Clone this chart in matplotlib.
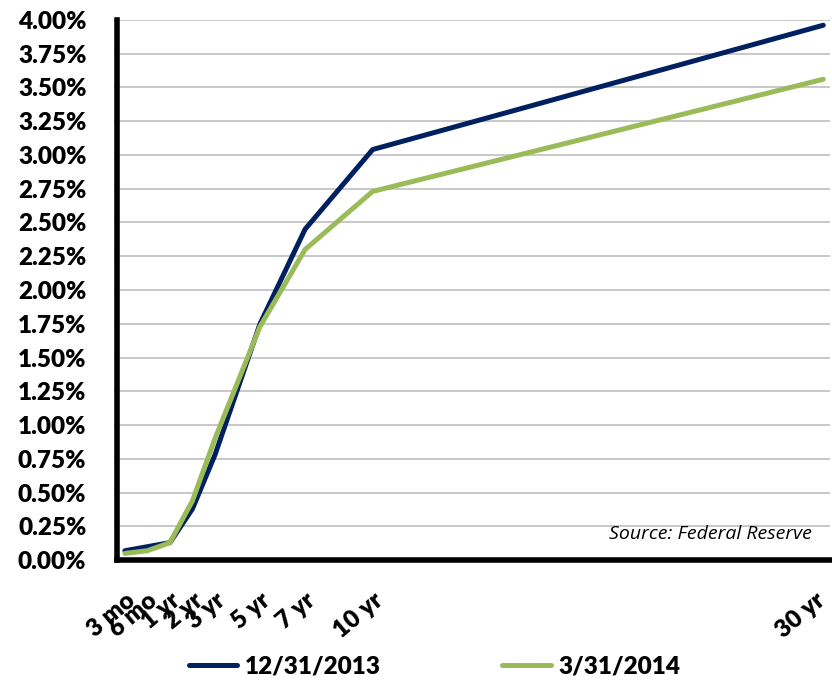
import matplotlib
matplotlib.use("Agg")
import matplotlib.pyplot as plt
from matplotlib.ticker import FuncFormatter
import matplotlib.transforms as mtransforms

# Data
maturities = ["3 mo", "6 mo", "1 yr", "2 yr", "3 yr", "5 yr", "7 yr", "10 yr", "30 yr"]
x_pos = [-1, 0, 1, 2, 3, 5, 7, 10, 30]
yield_2013 = [0.07, 0.10, 0.13, 0.38, 0.78, 1.75, 2.45, 3.04, 3.96]
yield_2014 = [0.05, 0.07, 0.13, 0.44, 0.90, 1.73, 2.30, 2.73, 3.56]
series_labels = ["12/31/2013", "3/31/2014"]
y_ticks = [0.25 * i for i in range(17)]

FONT = ["Lato", "DejaVu Sans"]
WEIGHT = "heavy"

fig = plt.figure(figsize=(8.32, 6.84), dpi=100)
ax = fig.add_axes([0.1406, 0.181, 0.857, 0.79])

ax.plot(x_pos, yield_2013, color="#002060", lw=3.6, solid_capstyle="round",
        solid_joinstyle="round", label=series_labels[0], zorder=3)
ax.plot(x_pos, yield_2014, color="#9BBB59", lw=3.6, solid_capstyle="round",
        solid_joinstyle="round", label=series_labels[1], zorder=4)

ax.set_ylim(0, 4.0)
ax.set_xlim(-1.35, 30.3)
ax.set_yticks(y_ticks)
ax.yaxis.set_major_formatter(FuncFormatter(lambda v, p: f"{v:.2f}%"))
ax.set_xticks(x_pos)
ax.set_xticklabels(maturities)

ax.grid(axis="y", color="#BFBFBF", lw=1.2)
ax.set_axisbelow(True)
for s in ["top", "right"]:
    ax.spines[s].set_visible(False)
for s in ["left", "bottom"]:
    ax.spines[s].set_linewidth(4)
    ax.spines[s].set_color("black")
ax.tick_params(axis="both", length=0)
ax.tick_params(axis="y", pad=22)
ax.tick_params(axis="x", pad=21)

for lbl in ax.get_yticklabels():
    lbl.set_fontfamily(FONT)
    lbl.set_fontweight(WEIGHT)
    lbl.set_fontsize(17.5)
xl = ax.get_xticklabels()
for lbl in xl:
    lbl.set_fontfamily(FONT)
    lbl.set_fontweight(WEIGHT)
    lbl.set_fontsize(17.5)
    lbl.set_rotation(40)
    lbl.set_ha("right")
    lbl.set_va("top")
    lbl.set_rotation_mode("anchor")
xl[-1].set_transform(xl[-1].get_transform() +
                     mtransforms.ScaledTranslation(-8 / 100, 0, fig.dpi_scale_trans))

ax.text(0.975, 0.048, "Source: Federal Reserve", transform=ax.transAxes,
        ha="right", va="center", fontsize=14, style="italic",
        family=["Open Sans", "DejaVu Sans"])

leg = fig.legend(loc="center", bbox_to_anchor=(0.522, 0.026), ncol=2, frameon=False,
                 prop={"family": FONT, "weight": WEIGHT, "size": 17.5},
                 handlelength=2.0, columnspacing=5.0, handletextpad=0.3)

fig.savefig("out.png", dpi=100)
